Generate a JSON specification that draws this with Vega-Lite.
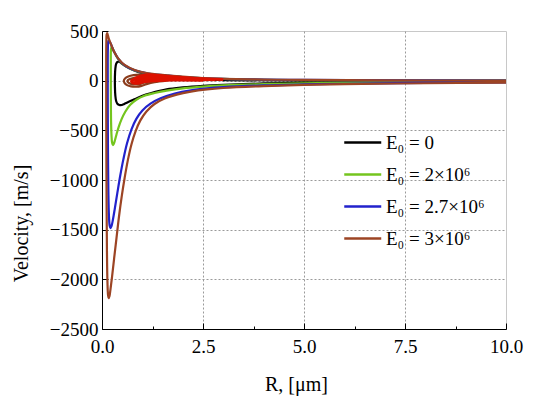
{
  "$schema": "https://vega.github.io/schema/vega-lite/v6.json",
  "width": 404,
  "height": 298,
  "autosize": "none",
  "padding": {"left": 102, "top": 31, "right": 44, "bottom": 67},
  "background": "white",
  "config": {
    "font": "Times New Roman",
    "view": {"stroke": "#c8c8c8", "strokeWidth": 1},
    "axis": {
      "domainColor": "#000000",
      "domainWidth": 1,
      "tickColor": "#000000",
      "tickWidth": 1,
      "labelColor": "#000000",
      "labelFont": "serif",
      "labelFontSize": 19,
      "labelFlush": false,
      "labelOverlap": false,
      "titleFont": "Times New Roman",
      "titleFontSize": 20,
      "titleFontWeight": "normal",
      "titleColor": "#000000",
      "gridColor": "#9a9a9a",
      "gridDash": [2, 2],
      "gridWidth": 1
    },
    "legend": {"labelFont": "Times New Roman"}
  },
  "datasets": {
    "main": [
      {"s": "E₀ = 0", "R": 10, "v": -10}, {"s": "E₀ = 0", "R": 8, "v": -12}, {"s": "E₀ = 0", "R": 6, "v": -17}, {"s": "E₀ = 0", "R": 5, "v": -21}, {"s": "E₀ = 0", "R": 4, "v": -28}, {"s": "E₀ = 0", "R": 3, "v": -42}, {"s": "E₀ = 0", "R": 2.5, "v": -52}, {"s": "E₀ = 0", "R": 2, "v": -68}, {"s": "E₀ = 0", "R": 1.6, "v": -88}, {"s": "E₀ = 0", "R": 1.2, "v": -127}, {"s": "E₀ = 0", "R": 1.0, "v": -152}, {"s": "E₀ = 0", "R": 0.8, "v": -188}, {"s": "E₀ = 0", "R": 0.65, "v": -215}, {"s": "E₀ = 0", "R": 0.55, "v": -235}, {"s": "E₀ = 0", "R": 0.49, "v": -245}, {"s": "E₀ = 0", "R": 0.43, "v": -245}, {"s": "E₀ = 0", "R": 0.38, "v": -232}, {"s": "E₀ = 0", "R": 0.35, "v": -205}, {"s": "E₀ = 0", "R": 0.33, "v": -150}, {"s": "E₀ = 0", "R": 0.32, "v": -60}, {"s": "E₀ = 0", "R": 0.32, "v": 40}, {"s": "E₀ = 0", "R": 0.33, "v": 120}, {"s": "E₀ = 0", "R": 0.35, "v": 168}, {"s": "E₀ = 0", "R": 0.38, "v": 188}, {"s": "E₀ = 0", "R": 0.42, "v": 190}, {"s": "E₀ = 0", "R": 0.5, "v": 170}, {"s": "E₀ = 0", "R": 0.6, "v": 142}, {"s": "E₀ = 0", "R": 0.8, "v": 102}, {"s": "E₀ = 0", "R": 1.0, "v": 74}, {"s": "E₀ = 0", "R": 1.3, "v": 46}, {"s": "E₀ = 0", "R": 1.7, "v": 26}, {"s": "E₀ = 0", "R": 2.2, "v": 13}, {"s": "E₀ = 0", "R": 3, "v": 6}, {"s": "E₀ = 0", "R": 4.5, "v": 2}, {"s": "E₀ = 0", "R": 7, "v": 1}, {"s": "E₀ = 0", "R": 10, "v": 0},

      {"s": "E₀ = 2×10⁶", "R": 10, "v": -13}, {"s": "E₀ = 2×10⁶", "R": 8, "v": -16}, {"s": "E₀ = 2×10⁶", "R": 6, "v": -22}, {"s": "E₀ = 2×10⁶", "R": 5, "v": -27}, {"s": "E₀ = 2×10⁶", "R": 4, "v": -35}, {"s": "E₀ = 2×10⁶", "R": 3, "v": -48}, {"s": "E₀ = 2×10⁶", "R": 2.5, "v": -60}, {"s": "E₀ = 2×10⁶", "R": 2, "v": -78}, {"s": "E₀ = 2×10⁶", "R": 1.6, "v": -101}, {"s": "E₀ = 2×10⁶", "R": 1.3, "v": -124}, {"s": "E₀ = 2×10⁶", "R": 1.05, "v": -152}, {"s": "E₀ = 2×10⁶", "R": 0.85, "v": -192}, {"s": "E₀ = 2×10⁶", "R": 0.7, "v": -243}, {"s": "E₀ = 2×10⁶", "R": 0.58, "v": -310}, {"s": "E₀ = 2×10⁶", "R": 0.48, "v": -392}, {"s": "E₀ = 2×10⁶", "R": 0.41, "v": -470}, {"s": "E₀ = 2×10⁶", "R": 0.36, "v": -540}, {"s": "E₀ = 2×10⁶", "R": 0.32, "v": -600}, {"s": "E₀ = 2×10⁶", "R": 0.29, "v": -638}, {"s": "E₀ = 2×10⁶", "R": 0.27, "v": -648}, {"s": "E₀ = 2×10⁶", "R": 0.25, "v": -625}, {"s": "E₀ = 2×10⁶", "R": 0.235, "v": -550}, {"s": "E₀ = 2×10⁶", "R": 0.225, "v": -420}, {"s": "E₀ = 2×10⁶", "R": 0.22, "v": -220}, {"s": "E₀ = 2×10⁶", "R": 0.218, "v": 0}, {"s": "E₀ = 2×10⁶", "R": 0.218, "v": 200}, {"s": "E₀ = 2×10⁶", "R": 0.222, "v": 310}, {"s": "E₀ = 2×10⁶", "R": 0.24, "v": 342}, {"s": "E₀ = 2×10⁶", "R": 0.3, "v": 290}, {"s": "E₀ = 2×10⁶", "R": 0.4, "v": 218}, {"s": "E₀ = 2×10⁶", "R": 0.56, "v": 152}, {"s": "E₀ = 2×10⁶", "R": 0.81, "v": 102}, {"s": "E₀ = 2×10⁶", "R": 1.14, "v": 70}, {"s": "E₀ = 2×10⁶", "R": 1.55, "v": 52}, {"s": "E₀ = 2×10⁶", "R": 2, "v": 36}, {"s": "E₀ = 2×10⁶", "R": 3, "v": 18}, {"s": "E₀ = 2×10⁶", "R": 5, "v": 6}, {"s": "E₀ = 2×10⁶", "R": 10, "v": 0},

      {"s": "E₀ = 2.7×10⁶", "R": 10, "v": -18}, {"s": "E₀ = 2.7×10⁶", "R": 8, "v": -23}, {"s": "E₀ = 2.7×10⁶", "R": 6, "v": -31}, {"s": "E₀ = 2.7×10⁶", "R": 5, "v": -38}, {"s": "E₀ = 2.7×10⁶", "R": 4, "v": -48}, {"s": "E₀ = 2.7×10⁶", "R": 3, "v": -66}, {"s": "E₀ = 2.7×10⁶", "R": 2.6, "v": -78}, {"s": "E₀ = 2.7×10⁶", "R": 2.2, "v": -97}, {"s": "E₀ = 2.7×10⁶", "R": 1.8, "v": -130}, {"s": "E₀ = 2.7×10⁶", "R": 1.45, "v": -178}, {"s": "E₀ = 2.7×10⁶", "R": 1.2, "v": -232}, {"s": "E₀ = 2.7×10⁶", "R": 1.0, "v": -300}, {"s": "E₀ = 2.7×10⁶", "R": 0.85, "v": -385}, {"s": "E₀ = 2.7×10⁶", "R": 0.73, "v": -490}, {"s": "E₀ = 2.7×10⁶", "R": 0.62, "v": -630}, {"s": "E₀ = 2.7×10⁶", "R": 0.53, "v": -790}, {"s": "E₀ = 2.7×10⁶", "R": 0.45, "v": -960}, {"s": "E₀ = 2.7×10⁶", "R": 0.38, "v": -1130}, {"s": "E₀ = 2.7×10⁶", "R": 0.32, "v": -1280}, {"s": "E₀ = 2.7×10⁶", "R": 0.27, "v": -1400}, {"s": "E₀ = 2.7×10⁶", "R": 0.235, "v": -1465}, {"s": "E₀ = 2.7×10⁶", "R": 0.21, "v": -1484}, {"s": "E₀ = 2.7×10⁶", "R": 0.19, "v": -1460}, {"s": "E₀ = 2.7×10⁶", "R": 0.172, "v": -1360}, {"s": "E₀ = 2.7×10⁶", "R": 0.158, "v": -1120}, {"s": "E₀ = 2.7×10⁶", "R": 0.148, "v": -720}, {"s": "E₀ = 2.7×10⁶", "R": 0.143, "v": -300}, {"s": "E₀ = 2.7×10⁶", "R": 0.142, "v": 100}, {"s": "E₀ = 2.7×10⁶", "R": 0.146, "v": 330}, {"s": "E₀ = 2.7×10⁶", "R": 0.16, "v": 405}, {"s": "E₀ = 2.7×10⁶", "R": 0.2, "v": 385}, {"s": "E₀ = 2.7×10⁶", "R": 0.3, "v": 292}, {"s": "E₀ = 2.7×10⁶", "R": 0.4, "v": 222}, {"s": "E₀ = 2.7×10⁶", "R": 0.56, "v": 155}, {"s": "E₀ = 2.7×10⁶", "R": 0.81, "v": 104}, {"s": "E₀ = 2.7×10⁶", "R": 1.14, "v": 72}, {"s": "E₀ = 2.7×10⁶", "R": 1.55, "v": 54}, {"s": "E₀ = 2.7×10⁶", "R": 2, "v": 37}, {"s": "E₀ = 2.7×10⁶", "R": 3, "v": 19}, {"s": "E₀ = 2.7×10⁶", "R": 5, "v": 7}, {"s": "E₀ = 2.7×10⁶", "R": 10, "v": 0},

      {"s": "E₀ = 3×10⁶", "R": 10, "v": -20}, {"s": "E₀ = 3×10⁶", "R": 8, "v": -26}, {"s": "E₀ = 3×10⁶", "R": 6, "v": -35}, {"s": "E₀ = 3×10⁶", "R": 5, "v": -43}, {"s": "E₀ = 3×10⁶", "R": 4, "v": -55}, {"s": "E₀ = 3×10⁶", "R": 3, "v": -74}, {"s": "E₀ = 3×10⁶", "R": 2.6, "v": -88}, {"s": "E₀ = 3×10⁶", "R": 2.2, "v": -110}, {"s": "E₀ = 3×10⁶", "R": 1.85, "v": -140}, {"s": "E₀ = 3×10⁶", "R": 1.55, "v": -180}, {"s": "E₀ = 3×10⁶", "R": 1.3, "v": -235}, {"s": "E₀ = 3×10⁶", "R": 1.1, "v": -310}, {"s": "E₀ = 3×10⁶", "R": 0.95, "v": -400}, {"s": "E₀ = 3×10⁶", "R": 0.83, "v": -510}, {"s": "E₀ = 3×10⁶", "R": 0.73, "v": -640}, {"s": "E₀ = 3×10⁶", "R": 0.64, "v": -800}, {"s": "E₀ = 3×10⁶", "R": 0.56, "v": -980}, {"s": "E₀ = 3×10⁶", "R": 0.49, "v": -1160}, {"s": "E₀ = 3×10⁶", "R": 0.42, "v": -1370}, {"s": "E₀ = 3×10⁶", "R": 0.36, "v": -1580}, {"s": "E₀ = 3×10⁶", "R": 0.3, "v": -1790}, {"s": "E₀ = 3×10⁶", "R": 0.25, "v": -1970}, {"s": "E₀ = 3×10⁶", "R": 0.21, "v": -2100}, {"s": "E₀ = 3×10⁶", "R": 0.185, "v": -2170}, {"s": "E₀ = 3×10⁶", "R": 0.165, "v": -2190}, {"s": "E₀ = 3×10⁶", "R": 0.15, "v": -2160}, {"s": "E₀ = 3×10⁶", "R": 0.135, "v": -2030}, {"s": "E₀ = 3×10⁶", "R": 0.122, "v": -1700}, {"s": "E₀ = 3×10⁶", "R": 0.112, "v": -1100}, {"s": "E₀ = 3×10⁶", "R": 0.106, "v": -450}, {"s": "E₀ = 3×10⁶", "R": 0.104, "v": 100}, {"s": "E₀ = 3×10⁶", "R": 0.107, "v": 380}, {"s": "E₀ = 3×10⁶", "R": 0.115, "v": 465}, {"s": "E₀ = 3×10⁶", "R": 0.13, "v": 478}, {"s": "E₀ = 3×10⁶", "R": 0.17, "v": 420}, {"s": "E₀ = 3×10⁶", "R": 0.23, "v": 359}, {"s": "E₀ = 3×10⁶", "R": 0.3, "v": 290}, {"s": "E₀ = 3×10⁶", "R": 0.4, "v": 225}, {"s": "E₀ = 3×10⁶", "R": 0.56, "v": 158}, {"s": "E₀ = 3×10⁶", "R": 0.81, "v": 107}, {"s": "E₀ = 3×10⁶", "R": 1.14, "v": 74}, {"s": "E₀ = 3×10⁶", "R": 1.55, "v": 57}, {"s": "E₀ = 3×10⁶", "R": 2, "v": 40}, {"s": "E₀ = 3×10⁶", "R": 2.5, "v": 27}, {"s": "E₀ = 3×10⁶", "R": 3, "v": 19}, {"s": "E₀ = 3×10⁶", "R": 4, "v": 11}, {"s": "E₀ = 3×10⁶", "R": 5, "v": 7}, {"s": "E₀ = 3×10⁶", "R": 7, "v": 3}, {"s": "E₀ = 3×10⁶", "R": 10, "v": 0}
    ],
    "brown": [
      {"s": "b1", "R": 1.6, "v": 50}, {"s": "b1", "R": 1.2, "v": 58}, {"s": "b1", "R": 0.95, "v": 60}, {"s": "b1", "R": 0.78, "v": 55}, {"s": "b1", "R": 0.65, "v": 42}, {"s": "b1", "R": 0.57, "v": 22}, {"s": "b1", "R": 0.54, "v": 0}, {"s": "b1", "R": 0.56, "v": -25}, {"s": "b1", "R": 0.62, "v": -45}, {"s": "b1", "R": 0.72, "v": -58}, {"s": "b1", "R": 0.85, "v": -61}, {"s": "b1", "R": 0.98, "v": -52}, {"s": "b1", "R": 1.1, "v": -35}, {"s": "b1", "R": 1.3, "v": -15}, {"s": "b1", "R": 1.6, "v": 0},
      {"s": "b2", "R": 1.3, "v": 35}, {"s": "b2", "R": 1.0, "v": 34}, {"s": "b2", "R": 0.8, "v": 28}, {"s": "b2", "R": 0.68, "v": 15}, {"s": "b2", "R": 0.63, "v": 0}, {"s": "b2", "R": 0.65, "v": -18}, {"s": "b2", "R": 0.72, "v": -32}, {"s": "b2", "R": 0.83, "v": -38}, {"s": "b2", "R": 0.95, "v": -32}, {"s": "b2", "R": 1.05, "v": -18}, {"s": "b2", "R": 1.3, "v": 0}
    ],
    "red": [
      {"s": "r1", "R": 1.1, "v": 18}, {"s": "r1", "R": 0.9, "v": 17}, {"s": "r1", "R": 0.78, "v": 10}, {"s": "r1", "R": 0.73, "v": -3}, {"s": "r1", "R": 0.75, "v": -16}, {"s": "r1", "R": 0.82, "v": -25}, {"s": "r1", "R": 0.92, "v": -24}, {"s": "r1", "R": 1.0, "v": -14}, {"s": "r1", "R": 1.2, "v": 2}, {"s": "r1", "R": 1.6, "v": 12},
      {"s": "r2", "R": 0.95, "v": 6}, {"s": "r2", "R": 0.86, "v": 3}, {"s": "r2", "R": 0.83, "v": -6}, {"s": "r2", "R": 0.87, "v": -14}, {"s": "r2", "R": 0.95, "v": -13}, {"s": "r2", "R": 1.05, "v": -4}, {"s": "r2", "R": 1.3, "v": 8},
      {"s": "w1", "R": 0.8, "v": 20}, {"s": "w1", "R": 0.95, "v": 45}, {"s": "w1", "R": 1.15, "v": 60}, {"s": "w1", "R": 1.4, "v": 52}, {"s": "w1", "R": 1.8, "v": 36}, {"s": "w1", "R": 2.3, "v": 22}, {"s": "w1", "R": 3, "v": 12},
      {"s": "w2", "R": 0.85, "v": 5}, {"s": "w2", "R": 1.0, "v": 32}, {"s": "w2", "R": 1.3, "v": 42}, {"s": "w2", "R": 1.7, "v": 32}, {"s": "w2", "R": 2.2, "v": 19}, {"s": "w2", "R": 2.8, "v": 10},
      {"s": "w3", "R": 0.9, "v": -5}, {"s": "w3", "R": 1.1, "v": 15}, {"s": "w3", "R": 1.5, "v": 24}, {"s": "w3", "R": 2, "v": 17}, {"s": "w3", "R": 2.6, "v": 9},
      {"s": "w4", "R": 1.0, "v": -10}, {"s": "w4", "R": 1.3, "v": 0}, {"s": "w4", "R": 1.8, "v": 6}, {"s": "w4", "R": 2.5, "v": 4}
    ]
  },
  "layer": [
    {
      "data": {"name": "main"},
      "mark": {"type": "line", "strokeWidth": 2.2, "clip": true, "interpolate": "catmull-rom"},
      "encoding": {
        "x": {
          "field": "R", "type": "quantitative",
          "scale": {"domain": [0, 10], "nice": false, "zero": false},
          "axis": {
            "title": "R, [μm]",
            "values": [0, 1.25, 2.5, 3.75, 5, 6.25, 7.5, 8.75, 10],
            "format": ".1f",
            "labelFont": "serif",
            "labelFlush": false,
            "labelExpr": "datum.value % 2.5 === 0 ? datum.label : ''",
            "tickSize": {"condition": {"test": "datum.value % 2.5 === 0", "value": -6}, "value": -3},
            "labelPadding": 14,
            "grid": true,
            "gridOpacity": {"condition": {"test": "datum.value > 0 && datum.value < 10 && datum.value % 2.5 === 0", "value": 1}, "value": 0},
            "titlePadding": 15,
            "titleX": 194
          }
        },
        "y": {
          "field": "v", "type": "quantitative",
          "scale": {"domain": [-2500, 500], "nice": false},
          "axis": {
            "title": "Velocity, [m/s]",
            "format": "d",
            "labelFont": "serif",
            "labelFlush": false,
            "values": [-2500, -2250, -2000, -1750, -1500, -1250, -1000, -750, -500, -250, 0, 250, 500],
            "labelExpr": "datum.value % 500 === 0 ? datum.label : ''",
            "tickSize": {"condition": {"test": "datum.value % 500 === 0", "value": -6}, "value": -3},
            "labelPadding": 10,
            "grid": true,
            "gridOpacity": {"condition": {"test": "datum.value > -2500 && datum.value < 500 && datum.value % 500 === 0", "value": 1}, "value": 0},
            "titlePadding": 18,
            "titleY": 192
          }
        },
        "color": {
          "field": "s", "type": "nominal",
          "scale": {
            "domain": ["E₀ = 0", "E₀ = 2×10⁶", "E₀ = 2.7×10⁶", "E₀ = 3×10⁶"],
            "range": ["#000000", "#74c51e", "#2222cc", "#9c4424"]
          },
          "legend": {
            "orient": "none",
            "legendX": 241,
            "legendY": 101,
            "title": null,
            "padding": 0,
            "symbolType": "M-1,0H3",
            "symbolSize": 342,
            "symbolStrokeWidth": 2.5,
            "labelFontSize": 19,
            "labelFont": "Times New Roman",
            "labelColor": "#000000",
            "labelOffset": 22,
            "rowPadding": 11
          }
        },
        "order": {"value": null}
      }
    },
    {
      "data": {"name": "brown"},
      "mark": {"type": "line", "strokeWidth": 2.2, "color": "#8b3c1c", "clip": true, "interpolate": "catmull-rom"},
      "encoding": {
        "x": {"field": "R", "type": "quantitative"},
        "y": {"field": "v", "type": "quantitative"},
        "detail": {"field": "s"},
        "order": {"value": null}
      }
    },
    {
      "data": {"name": "red"},
      "mark": {"type": "line", "strokeWidth": 3, "color": "#dd1100", "clip": true, "interpolate": "catmull-rom"},
      "encoding": {
        "x": {"field": "R", "type": "quantitative"},
        "y": {"field": "v", "type": "quantitative"},
        "detail": {"field": "s"},
        "order": {"value": null}
      }
    }
  ]
}
